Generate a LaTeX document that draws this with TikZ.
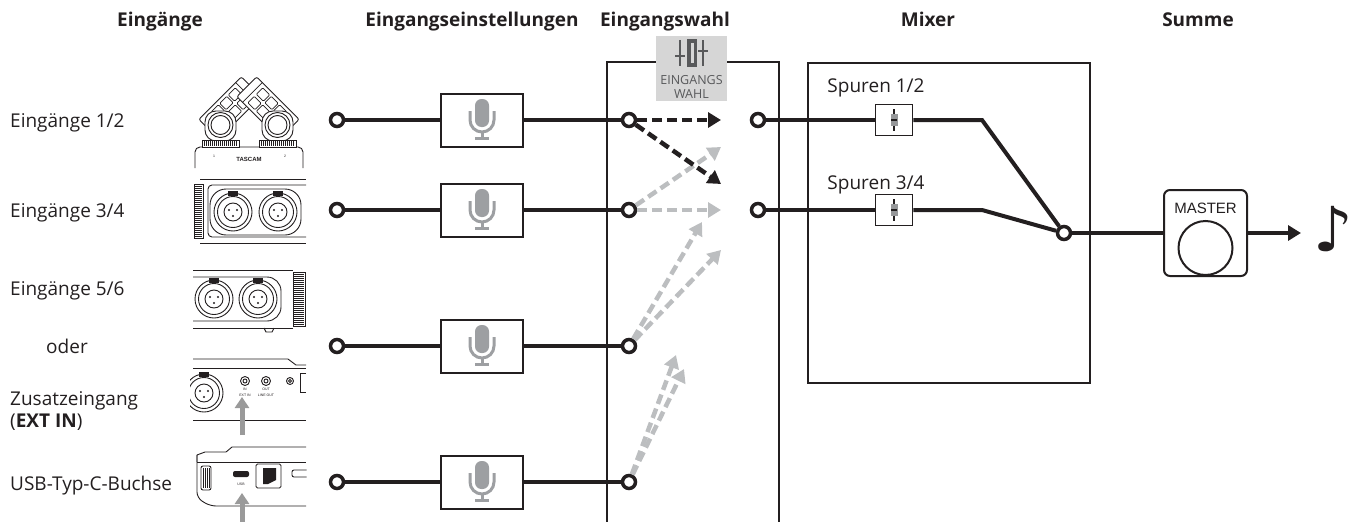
\documentclass[tikz,border=0pt]{standalone}
\usepackage{fontspec}
\setmainfont{Open Sans}
\newfontfamily\helv{Liberation Sans}
\newfontfamily\djv{DejaVu Sans}
\usetikzlibrary{arrows.meta,calc}
\definecolor{ink}{HTML}{231F20}
\definecolor{lgray}{HTML}{BCBEC0}
\definecolor{micgray}{HTML}{9D9FA2}
\definecolor{iconbg}{HTML}{D6D6D6}
\definecolor{icontxt}{HTML}{58595B}
\definecolor{arrgray}{HTML}{9A9A9A}
\begin{document}
\begin{tikzpicture}[x=1pt,y=-1pt,
  head/.style={font=\bfseries\fontsize{19}{22}\selectfont, anchor=base, inner sep=0pt, text=ink},
  lab/.style={font=\fontsize{19}{22}\selectfont, anchor=base west, inner sep=0pt, text=ink},
  clab/.style={font=\fontsize{19}{22}\selectfont, anchor=base, inner sep=0pt, text=ink},
  wire/.style={line width=4pt, draw=ink},
  port/.style={circle, draw=ink, line width=3.5pt, fill=white, minimum size=13pt, inner sep=0pt},
  micbox/.style={draw=ink, line width=2pt, fill=white, minimum width=82pt, minimum height=53pt, inner sep=0pt},
  faderbox/.style={draw=ink, line width=1.5pt, fill=white, minimum width=37pt, minimum height=31pt, inner sep=0pt},
  frame/.style={draw=ink, line width=2pt},
  seldark/.style={line width=4.5pt, draw=ink, dash pattern=on 10pt off 5pt, -{Triangle[length=13pt,width=15pt]}},
  selgray/.style={line width=4.5pt, draw=lgray, dash pattern=on 10pt off 5pt, -{Triangle[length=13pt,width=15pt]}},
  garrow/.style={draw=arrgray, line width=5pt, -{Triangle[length=11pt,width=14pt]}},
  dev/.style={draw=ink, line width=0.9pt},
  tiny/.style={font=\helv\fontsize{3.5}{4}\selectfont, inner sep=0pt, text=ink},
  mic/.pic={
    \fill[micgray, rounded corners=6.5pt] (-7,-21) rectangle (7,7);
    \draw[micgray, line width=3pt] (-12,-9) -- (-12,0) arc[start angle=180, end angle=0, radius=12] -- (12,-9);
    \draw[micgray, line width=3pt] (0,12) -- (0,18);
    \fill[micgray] (-7,17) rectangle (7,20);
  },
  fad/.pic={
    \draw[ink, line width=1.5pt] (0,-11) -- (0,11);
    \fill[lgray!80!black] (-3.5,-6) rectangle (3.5,6);
    \draw[ink, line width=1.5pt] (-3,0) -- (3,0);
  },
  jack/.pic={
    \draw[dev, fill=white] (0,0) circle[radius=19];
    \draw[dev] (0,0) circle[radius=15.5];
    \draw[dev] (0,0) circle[radius=9];
    \fill[ink] (-4,-2) circle[radius=1.2] (4,-2) circle[radius=1.2] (0,4) circle[radius=1.2];
    \fill[ink] (-5,-21) rectangle (5,-16);
  },
  capsule/.pic={
    \draw[dev, fill=white, rounded corners=2pt] (-14,-30) rectangle (14,30);
    \draw[dev, line width=0.7pt] (-14,-22) -- (14,-22);
    \foreach \i in {-1,1} \foreach \j in {-18,-6,6}
      \draw[dev, line width=0.7pt, rounded corners=1pt] ({\i*6-4.5},\j) rectangle ({\i*6+4.5},{\j+10});
  }
]
\useasboundingbox (0,0) rectangle (1352,522);

% ---------- headings
\node[head] (h1) at (160,27) {Eingänge};
\node[head] (h2) at (472,27) {Eingangseinstellungen};
\node[head] (h3) at (665,27) {Eingangswahl};
\node[head] (h4) at (928,27) {Mixer};
\node[head] (h5) at (1198,27) {Summe};

% ---------- left labels
\node[lab] (l1) at (10,127) {Eingänge 1/2};
\node[lab] (l2) at (10,217) {Eingänge 3/4};
\node[lab] (l3) at (10,295) {Eingänge 5/6};
\node[clab] (l4) at (67,353) {oder};
\node[lab] (l5) at (10,405) {Zusatzeingang};
\node[lab] (l6) at (10,427) {(\textbf{EXT IN})};
\node[lab] (l7) at (10,490) {USB-Typ-C-Buchse};

% ---------- device drawings
\begin{scope}
\clip (190,60) rectangle (306.5,522);
% X-Y mics
\pic[rotate=-45] at (230,108) {capsule};
\pic[rotate=45] at (268,108) {capsule};
\draw[dev, fill=white, rounded corners=5pt] (195,168) -- (195,147) -- (303,147) -- (303,168);
\node[tiny, font=\helv\bfseries\fontsize{6}{6}\selectfont] (tascam) at (249,159) {TASCAM};
\node[tiny] (n1) at (214,156) {1};
\node[tiny] (n2) at (285,156) {2};
\draw[dev, fill=white, rounded corners=11pt] (205,111) rectangle (236,141);
\draw[dev, fill=white, rounded corners=11pt] (262,111) rectangle (293,141);
\draw[dev] (220.5,125) circle[radius=12.5] (220.5,125) circle[radius=9.5];
\draw[dev] (277.5,125) circle[radius=12.5] (277.5,125) circle[radius=9.5];
\draw[dev, fill=white] (202,140) rectangle (239,147);
\draw[dev, fill=white] (259,140) rectangle (296,147);
\foreach \x in {204,206,...,237} \draw[ink, line width=0.5pt] (\x,141) -- (\x,146);
\foreach \x in {261,263,...,294} \draw[ink, line width=0.5pt] (\x,141) -- (\x,146);
% side panel 3/4
\draw[dev] (200,179) -- (306,179);
\draw[dev] (200,243) -- (306,243);
\draw[dev, rounded corners=4pt] (306,185) -- (208,185) -- (208,237) -- (306,237);
\draw[dev, fill=white] (194,184) rectangle (203,238);
\foreach \y in {186,188,...,236} \draw[ink, line width=0.5pt] (195,\y) -- (202,\y);
\draw[dev, rounded corners=16pt] (210,189) rectangle (301,235);
\pic at (233,212) {jack};
\pic at (278,212) {jack};
% side panel 5/6
\draw[dev] (193,270) -- (293,270);
\draw[dev] (193,328) -- (293,328);
\draw[dev, rounded corners=14pt] (193,277) -- (281,277) -- (281,321) -- (193,321);
\pic at (214,299) {jack};
\pic at (258,299) {jack};
\draw[dev, fill=white] (293,272) rectangle (305,326);
\foreach \y in {274,276,...,324} \draw[ink, line width=0.5pt] (294,\y) -- (304,\y);
\draw[dev] (264,328) -- (266,332) -- (272,332) -- (274,328);
% EXT IN panel
\draw[dev] (193,359) -- (288,359) -- (296,365) -- (306,365);
\draw[dev] (193,368) -- (306,368);
\draw[dev] (193,420) -- (306,420);
\pic at (204,393) {jack};
\draw[dev] (245,381) circle[radius=4.5] (245,381) circle[radius=2];
\draw[dev] (266,381) circle[radius=4.5] (266,381) circle[radius=2];
\draw[dev] (290,381) circle[radius=3.5] (290,381) circle[radius=1.5];
\node[tiny] (tin) at (245,389) {IN};
\node[tiny] (tout) at (266,389) {OUT};
\node[tiny] (text) at (245,395) {EXT IN};
\node[tiny] (tline) at (266,395) {LINE OUT};
\draw[dev] (306,373) -- (300,373) -- (300,392) -- (306,392);
% USB panel
\draw[dev] (197,462) -- (197,455) -- (205,452) -- (226,452) -- (232,447) -- (306,447);
\draw[dev] (197,462) -- (306,462);
\draw[dev, rounded corners=6pt] (197,455) -- (197,498) -- (210,506) -- (306,506);
\draw[dev, fill=white, rounded corners=2pt] (201,466) rectangle (211,490);
\foreach \x in {203,205,...,209} \draw[ink, line width=0.5pt] (\x,468) -- (\x,488);
\fill[ink, rounded corners=2pt] (233,471) rectangle (249,477);
\node[tiny] (tusb) at (241,484) {USB};
\draw[dev, rounded corners=1.5pt] (256,464) rectangle (281,488);
\fill[ink] (263,468) -- (276,468) -- (276,480) -- (268,484) -- (263,484) -- cycle;
\draw[dev, rounded corners=2pt] (292,470) rectangle (310,477);
\end{scope}
% grey arrows under devices
\coordinate (ea0) at (242,435);
\coordinate (ea1) at (242,397);
\coordinate (ub0) at (242,524);
\coordinate (ub1) at (242,493);
\draw[garrow] (ea0) -- (ea1);
\draw[garrow] (ub0) -- (ub1);

% ---------- frames
\draw[frame] (607,530) -- (607,62) -- (779,62) -- (779,530);
\draw[frame] (808,63) rectangle (1090,383);

% selection icon
\node[fill=iconbg, minimum width=71pt, minimum height=65pt, inner sep=0pt] (sel) at (691.5,68.5) {};
\draw[icontxt, line width=1.8pt] (680,40) -- (680,66) (675,56) -- (685,56);
\draw[icontxt, line width=1.8pt] (703,40) -- (703,66) (698,51) -- (708,51);
\fill[icontxt] (687,39) rectangle (697,67);
\fill[iconbg] (690.5,43) rectangle (693.5,63);
\node[font=\fontsize{12.5}{14}\selectfont, text=icontxt, anchor=base, inner sep=0pt] (selt1) at (691.5,84) {EINGANGS};
\node[font=\fontsize{12.5}{14}\selectfont, text=icontxt, anchor=base, inner sep=0pt] (selt2) at (691.5,98) {WAHL};

% ---------- input chain nodes
\foreach \i/\y in {1/120,2/210,3/346,4/482}{
  \node[port] (p\i) at (337,\y) {};
  \node[micbox] (m\i) at (482,\y) {};
  \pic at (482,\y) {mic};
  \node[port] (q\i) at (629,\y) {};
}
\foreach \i in {1,2,3,4}{
  \draw[wire] (p\i) -- (m\i);
  \draw[wire] (m\i) -- (q\i);
}

% right ports
\node[port] (r1) at (758,120) {};
\node[port] (r2) at (758,210) {};

% selection arrows
\coordinate (t1) at (721,120);
\coordinate (t2) at (721,184);
\coordinate (t3) at (721,147);
\coordinate (t4) at (721,210);
\coordinate (t5) at (702,222);
\coordinate (t6) at (721,250);
\coordinate (t7) at (676,355);
\coordinate (t8) at (684,369);
\draw[selgray] (q2) -- (t3);
\draw[selgray] (q2) -- (t4);
\draw[selgray] (q3) -- (t5);
\draw[selgray] (q3) -- (t6);
\draw[selgray] (q4) -- (t7);
\draw[selgray] (q4) -- (t8);
\draw[seldark] (q1) -- (t1);
\draw[seldark] (q1) -- (t2);

% ---------- mixer
\node[clab] (s1) at (876,92) {Spuren 1/2};
\node[clab] (s2) at (876,189) {Spuren 3/4};
\node[faderbox] (f1) at (894,120) {};
\node[faderbox] (f2) at (894,210) {};
\pic at (894,120) {fad};
\pic at (894,210) {fad};
\node[port] (sum) at (1064,233) {};
\coordinate (b1) at (982,120);
\coordinate (b2) at (982,210);
\draw[wire] (r1) -- (f1);
\draw[wire] (r2) -- (f2);
\draw[wire] (f1) -- (b1) -- (sum);
\draw[wire] (f2) -- (b2) -- (sum);

% ---------- master
\node[draw=ink, line width=2pt, rounded corners=6pt, fill=white, minimum width=83pt, minimum height=86pt, inner sep=0pt] (master) at (1205.5,233) {};
\node[font=\helv\fontsize{15}{17}\selectfont, anchor=base, inner sep=0pt, text=ink] (mastert) at (1205.5,213) {MASTER};
\node[circle, draw=ink, line width=2pt, minimum size=54pt, inner sep=0pt] (knob) at (1205.5,248) {};
\draw[wire] (sum) -- (master);
\coordinate (outend) at (1301,233);
\draw[wire, -{Triangle[length=13pt,width=15pt]}] (master) -- (outend);
\node[font=\djv\fontsize{62}{64}\selectfont, inner sep=0pt, text=ink] (note) at (1333,229) {♪};
\end{tikzpicture}
\end{document}
